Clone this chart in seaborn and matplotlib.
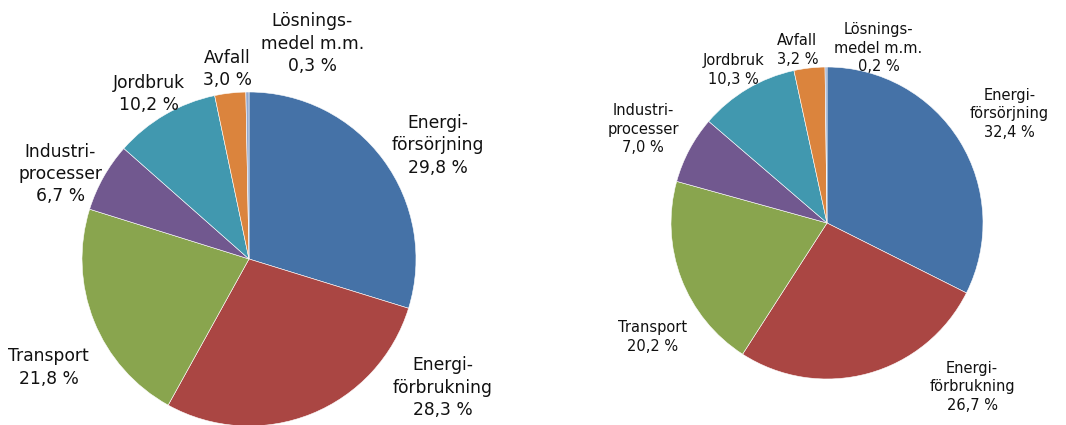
import matplotlib
matplotlib.use("Agg")
import matplotlib.pyplot as plt
import seaborn as sns

CATEGORIES = [
    "Energi-\nförsörjning",
    "Energi-\nförbrukning",
    "Transport",
    "Industri-\nprocesser",
    "Jordbruk",
    "Avfall",
    "Lösnings-\nmedel m.m.",
]
LEFT_VALUES = [29.8, 28.3, 21.8, 6.7, 10.2, 3.0, 0.3]
RIGHT_VALUES = [32.4, 26.7, 20.2, 7.0, 10.3, 3.2, 0.2]
COLORS = ["#4572A7", "#AA4643", "#89A54E", "#71588F", "#4198AF", "#DB843D", "#93A9CF"]

# label centres in pie-radius units (layout only)
LEFT_LABEL_POS = [(1.13, 0.68), (1.16, -0.77), (-1.20, -0.65), (-1.13, 0.51),
                  (-0.60, 0.99), (-0.13, 1.14), (0.38, 1.29)]
RIGHT_LABEL_POS = [(1.17, 0.70), (0.93, -1.05), (-1.12, -0.73), (-1.18, 0.60),
                   (-0.60, 0.98), (-0.19, 1.11), (0.33, 1.12)]

sns.set_theme(style="white")
plt.rcParams["font.family"] = ["DejaVu Sans"]

W, H = 1066, 425
fig = plt.figure(figsize=(W / 100, H / 100), dpi=100)


def draw_pie(cx, cy, r, values, label_pos, fontsize):
    size = 3 * r
    ax = fig.add_axes([(cx - size / 2) / W, (H - cy - size / 2) / H, size / W, size / H])
    palette = sns.color_palette(COLORS)
    ax.pie(values, colors=palette, startangle=90, counterclock=False, radius=1,
           wedgeprops=dict(edgecolor="white", linewidth=0.4))
    for name, val, (x, y) in zip(CATEGORIES, values, label_pos):
        pct = f"{val:.1f}".replace(".", ",")
        ax.text(x, y, f"{name}\n{pct} %", ha="center", va="center",
                fontsize=fontsize, color="#111111", linespacing=1.3)
    ax.set_xlim(-1.5, 1.5)
    ax.set_ylim(-1.5, 1.5)
    ax.set_aspect("equal")
    ax.axis("off")


draw_pie(249, 259, 167, LEFT_VALUES, LEFT_LABEL_POS, 12.3)
draw_pie(827, 223, 156, RIGHT_VALUES, RIGHT_LABEL_POS, 10.5)

fig.savefig("out.png", dpi=100)
